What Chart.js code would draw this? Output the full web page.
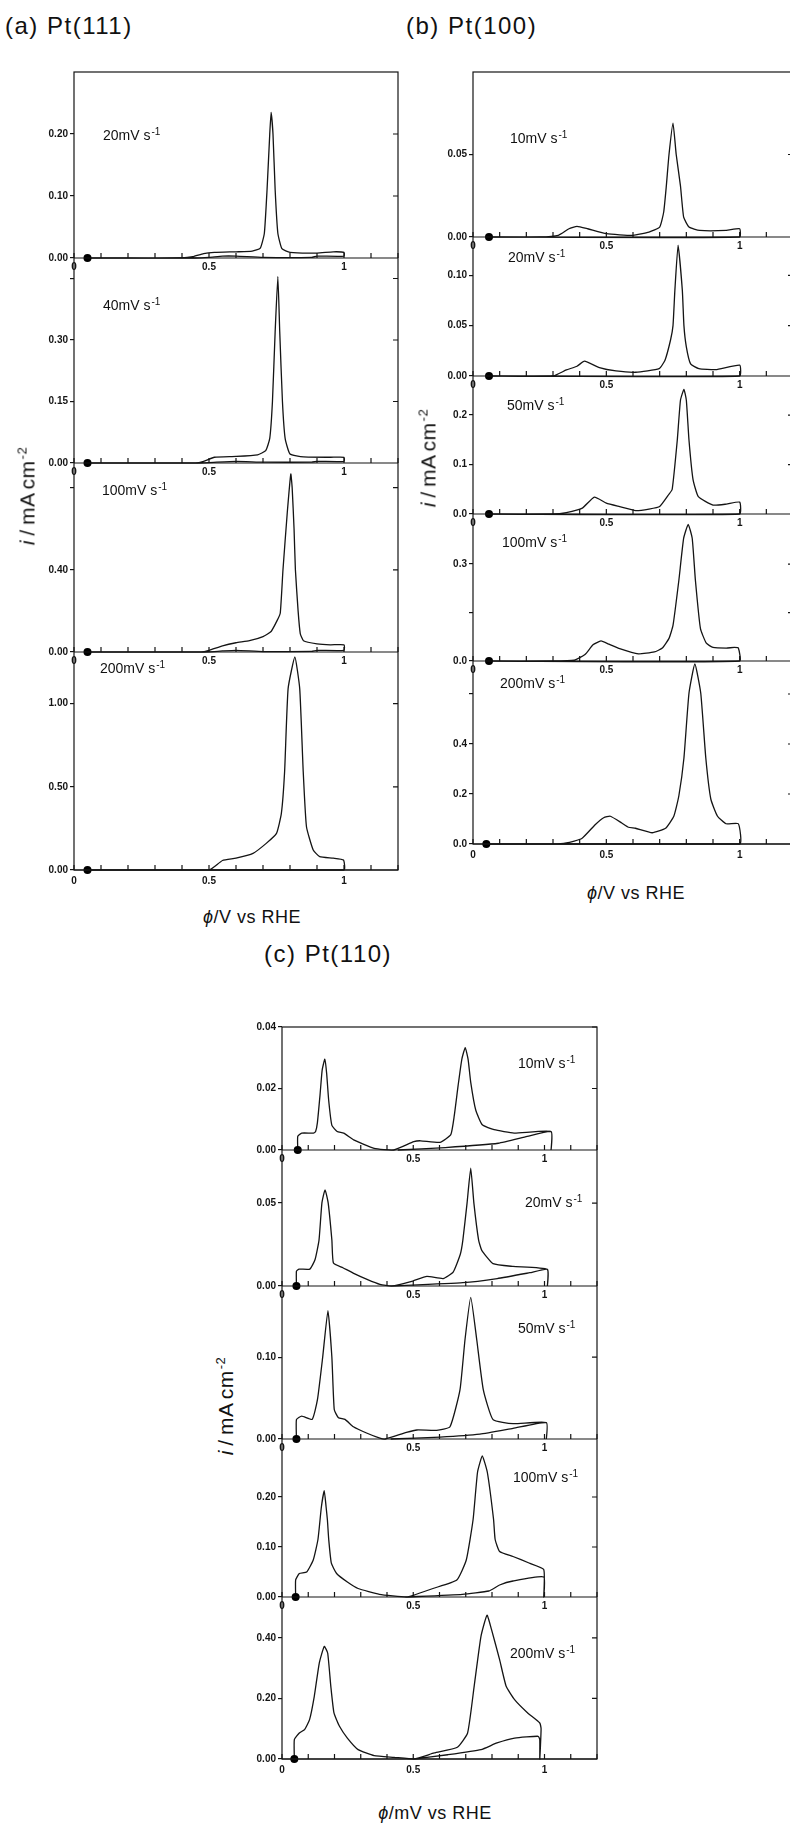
<!DOCTYPE html>
<html>
<head>
<meta charset="utf-8">
<script src="https://cdn.jsdelivr.net/npm/chart.js@4.4.0/dist/chart.umd.min.js"></script>
<style>
body{margin:0;width:790px;height:1826px;overflow:hidden;background:#fff;position:relative;font-family:"Liberation Sans",Arial,sans-serif;color:#111}
canvas{position:absolute}
.t{position:absolute;white-space:nowrap;line-height:1}
.panel{font-size:24px;letter-spacing:1.5px}
.rate{font-size:14px;transform:translateY(-50%)}
.sup{font-size:10px;position:relative;top:-5px;margin-left:1px}
.xt{font-size:18px;transform:translate(-50%,-50%);letter-spacing:0.5px}
.yt{font-size:21px;transform:translate(-50%,-50%) rotate(-90deg);word-spacing:-2px;letter-spacing:0.5px}
.yt .sup{font-size:13px;top:-8px}
</style>
</head>
<body>
<div id="wrap"></div>

<div class="t panel" style="left:5px;top:14px">(a) Pt(111)</div>
<div class="t panel" style="left:406px;top:14px">(b) Pt(100)</div>
<div class="t panel" style="left:264px;top:942px">(c) Pt(110)</div>

<div class="t rate" style="left:103px;top:135px">20mV s<span class="sup">-1</span></div>
<div class="t rate" style="left:103px;top:305px">40mV s<span class="sup">-1</span></div>
<div class="t rate" style="left:102px;top:490px">100mV s<span class="sup">-1</span></div>
<div class="t rate" style="left:100px;top:668px">200mV s<span class="sup">-1</span></div>

<div class="t rate" style="left:510px;top:138px">10mV s<span class="sup">-1</span></div>
<div class="t rate" style="left:508px;top:257px">20mV s<span class="sup">-1</span></div>
<div class="t rate" style="left:507px;top:405px">50mV s<span class="sup">-1</span></div>
<div class="t rate" style="left:502px;top:542px">100mV s<span class="sup">-1</span></div>
<div class="t rate" style="left:500px;top:683px">200mV s<span class="sup">-1</span></div>

<div class="t rate" style="left:518px;top:1063px">10mV s<span class="sup">-1</span></div>
<div class="t rate" style="left:525px;top:1202px">20mV s<span class="sup">-1</span></div>
<div class="t rate" style="left:518px;top:1328px">50mV s<span class="sup">-1</span></div>
<div class="t rate" style="left:513px;top:1477px">100mV s<span class="sup">-1</span></div>
<div class="t rate" style="left:510px;top:1653px">200mV s<span class="sup">-1</span></div>

<div class="t xt" style="left:252px;top:917px"><i>ϕ</i>/V vs RHE</div>
<div class="t xt" style="left:636px;top:893px"><i>ϕ</i>/V vs RHE</div>
<div class="t xt" style="left:435px;top:1813px"><i>ϕ</i>/mV vs RHE</div>

<div class="t yt" style="left:27px;top:496px"><i>i</i> / mA cm<span class="sup">-2</span></div>
<div class="t yt" style="left:428px;top:458px"><i>i</i> / mA cm<span class="sup">-2</span></div>
<div class="t yt" style="left:225px;top:1406px"><i>i</i> / mA cm<span class="sup">-2</span></div>

<script>
// potential axis (V vs RHE)
const xTickValues = [0, 0.1, 0.2, 0.3, 0.4, 0.5, 0.6, 0.7, 0.8, 0.9, 1.0, 1.1, 1.2]
const xTickLabels = ['0', '', '', '', '', '0.5', '', '', '', '', '1', '', '']

// (a) Pt(111): [potential, current]
const a20 = [[0.05,0],[0.2,0],[0.4,0],[0.44,0.002],[0.48,0.007],[0.52,0.009],[0.6,0.01],[0.66,0.011],[0.69,0.016],[0.705,0.04],[0.715,0.11],[0.725,0.2],[0.73,0.235],[0.737,0.2],[0.745,0.11],[0.755,0.04],[0.77,0.015],[0.8,0.009],[0.9,0.008],[0.96,0.01],[1.0,0.009],[1.0,0.003],[0.9,0.003],[0.88,0.001],[0.7,0.001],[0.6,0.003],[0.55,0.003],[0.5,0.001],[0.45,0],[0.05,0]]
const a40 = [[0.05,0],[0.3,0],[0.45,0],[0.48,0.004],[0.52,0.014],[0.6,0.016],[0.68,0.02],[0.71,0.03],[0.725,0.06],[0.735,0.15],[0.745,0.32],[0.755,0.455],[0.762,0.32],[0.772,0.15],[0.782,0.06],[0.8,0.022],[0.85,0.015],[0.95,0.014],[1.0,0.014],[1.0,0.004],[0.9,0.004],[0.88,0.002],[0.7,0.002],[0.6,0.004],[0.5,0.001],[0.45,0],[0.05,0]]
const a100 = [[0.05,0],[0.3,0],[0.47,0],[0.5,0.008],[0.55,0.03],[0.6,0.045],[0.65,0.055],[0.7,0.075],[0.73,0.1],[0.753,0.155],[0.764,0.19],[0.774,0.4],[0.79,0.68],[0.803,0.866],[0.808,0.8],[0.815,0.6],[0.82,0.4],[0.83,0.2],[0.838,0.09],[0.85,0.055],[0.9,0.04],[0.95,0.035],[1.0,0.035],[1.0,0.008],[0.9,0.008],[0.88,0.003],[0.7,0.002],[0.6,0.008],[0.55,0.005],[0.5,0.001],[0.45,0],[0.05,0]]
const a200 = [[0.05,0],[0.3,0],[0.5,0],[0.55,0.057],[0.6,0.071],[0.663,0.1],[0.712,0.16],[0.75,0.22],[0.768,0.34],[0.78,0.59],[0.793,1.09],[0.818,1.28],[0.836,1.09],[0.849,0.59],[0.861,0.26],[0.886,0.12],[0.91,0.08],[0.96,0.071],[0.998,0.06],[1.0,0],[0.05,0]]
const aMax = [0.30, 0.50, 0.92, 1.31]
const aTicks = [[0, 0.1, 0.2], [0, 0.15, 0.3, 0.45], [0, 0.4, 0.8], [0, 0.5, 1.0]]
const aTickLabels = [['0.00','0.10','0.20'], ['0.00','0.15','0.30',''], ['0.00','0.40',''], ['0.00','0.50','1.00']]

// (b) Pt(100)
const b10 = [[0.06,0],[0.25,0],[0.32,0.001],[0.36,0.005],[0.39,0.0065],[0.43,0.005],[0.5,0.002],[0.6,0.001],[0.66,0.003],[0.7,0.006],[0.715,0.015],[0.725,0.031],[0.735,0.05],[0.75,0.069],[0.762,0.05],[0.778,0.031],[0.79,0.012],[0.81,0.006],[0.85,0.004],[0.95,0.004],[1.0,0.005],[1.0,0],[0.06,0]]
const b20 = [[0.06,0],[0.3,0],[0.35,0.006],[0.39,0.0097],[0.418,0.0147],[0.474,0.0083],[0.536,0.005],[0.61,0.0037],[0.698,0.0073],[0.72,0.0157],[0.741,0.036],[0.75,0.05],[0.757,0.085],[0.769,0.13],[0.785,0.085],[0.791,0.05],[0.8,0.029],[0.816,0.012],[0.847,0.0073],[0.91,0.0063],[1.0,0.0107],[1.0,0],[0.06,0]]
const b50 = [[0.06,0],[0.3,0],[0.35,0.003],[0.41,0.012],[0.455,0.034],[0.5,0.022],[0.55,0.015],[0.61,0.007],[0.66,0.01],[0.7,0.015],[0.735,0.04],[0.747,0.05],[0.766,0.149],[0.778,0.23],[0.791,0.252],[0.8,0.23],[0.81,0.149],[0.825,0.07],[0.845,0.035],[0.9,0.018],[0.95,0.02],[1.0,0.024],[1.0,0],[0.06,0]]
const b100 = [[0.06,0],[0.3,0],[0.38,0.003],[0.42,0.02],[0.45,0.05],[0.48,0.062],[0.51,0.052],[0.55,0.038],[0.62,0.022],[0.68,0.028],[0.71,0.04],[0.735,0.07],[0.75,0.11],[0.772,0.25],[0.79,0.38],[0.807,0.423],[0.822,0.38],[0.834,0.25],[0.853,0.1],[0.875,0.055],[0.9,0.042],[0.95,0.04],[0.98,0.042],[0.995,0.04],[1.0,0],[0.06,0]]
const b200 = [[0.05,0],[0.3,0],[0.35,0.004],[0.408,0.022],[0.458,0.077],[0.49,0.105],[0.515,0.111],[0.558,0.084],[0.583,0.067],[0.609,0.063],[0.672,0.045],[0.722,0.063],[0.753,0.111],[0.772,0.193],[0.791,0.344],[0.81,0.604],[0.832,0.72],[0.854,0.604],[0.873,0.344],[0.892,0.179],[0.917,0.111],[0.949,0.081],[0.995,0.081],[1.0,0],[0.05,0]]
const bMax = [0.100, 0.138, 0.279, 0.455, 0.732]
const bTicks = [[0, 0.05], [0, 0.05, 0.10], [0, 0.1, 0.2], [0, 0.15, 0.3], [0, 0.2, 0.4, 0.6]]
const bTickLabels = [['0.00','0.05'], ['0.00','0.05','0.10'], ['0.0','0.1','0.2'], ['0.0','','0.3'], ['0.0','0.2','0.4','']]

// (c) Pt(110)
const c10 = [[0.06,0],[0.06,0.0044],[0.075,0.0055],[0.12,0.0055],[0.128,0.006],[0.135,0.009],[0.145,0.018],[0.153,0.026],[0.163,0.0295],[0.17,0.025],[0.178,0.016],[0.19,0.008],[0.21,0.006],[0.235,0.0055],[0.273,0.0033],[0.351,0.0005],[0.426,0],[0.502,0.0027],[0.528,0.003],[0.602,0.0025],[0.643,0.005],[0.656,0.011],[0.671,0.021],[0.685,0.0295],[0.698,0.0333],[0.709,0.0295],[0.719,0.022],[0.738,0.013],[0.763,0.0082],[0.808,0.0066],[0.884,0.0055],[1.025,0.006],[1.025,0],[1.025,0.006],[0.934,0.0044],[0.824,0.0022],[0.622,0.0008],[0.441,0]]
const c20 = [[0.055,0],[0.055,0.009],[0.065,0.0102],[0.106,0.0102],[0.126,0.016],[0.141,0.0277],[0.152,0.05],[0.164,0.058],[0.176,0.05],[0.19,0.0277],[0.196,0.0138],[0.232,0.011],[0.271,0.0078],[0.324,0.004],[0.373,0.001],[0.418,0],[0.498,0.003],[0.552,0.0058],[0.614,0.0045],[0.652,0.0084],[0.679,0.019],[0.689,0.0277],[0.705,0.05],[0.719,0.071],[0.731,0.05],[0.749,0.0277],[0.761,0.0215],[0.804,0.0135],[0.88,0.0118],[1.011,0.01],[1.011,0],[1.011,0.01],[0.944,0.008],[0.82,0.0045],[0.689,0.002],[0.418,0]]
const c50 = [[0.055,0],[0.055,0.0236],[0.075,0.028],[0.115,0.024],[0.135,0.048],[0.155,0.1],[0.175,0.157],[0.19,0.1],[0.199,0.036],[0.215,0.026],[0.24,0.024],[0.272,0.015],[0.322,0.0073],[0.373,0.001],[0.394,0],[0.474,0.008],[0.514,0.011],[0.589,0.0106],[0.64,0.015],[0.678,0.06],[0.697,0.121],[0.719,0.173],[0.742,0.121],[0.767,0.06],[0.804,0.0236],[0.88,0.0187],[1.007,0.02],[1.007,0],[1.007,0.02],[0.88,0.013],[0.754,0.006],[0.602,0.0024],[0.414,0]]
const c100 = [[0.052,0],[0.052,0.034],[0.066,0.047],[0.094,0.05],[0.119,0.074],[0.137,0.115],[0.15,0.18],[0.161,0.2126],[0.168,0.18],[0.173,0.154],[0.178,0.115],[0.188,0.0676],[0.208,0.047],[0.249,0.03],[0.29,0.017],[0.371,0.0054],[0.473,0],[0.5,0.0034],[0.575,0.017],[0.666,0.034],[0.702,0.074],[0.728,0.155],[0.745,0.25],[0.763,0.282],[0.782,0.25],[0.806,0.155],[0.812,0.115],[0.829,0.091],[0.88,0.081],[0.941,0.068],[0.997,0.055],[0.997,0],[0.997,0.04],[0.88,0.032],[0.829,0.024],[0.788,0.012],[0.687,0.0054],[0.473,0]]
const c200 = [[0.047,0],[0.047,0.064],[0.066,0.086],[0.086,0.097],[0.105,0.13],[0.123,0.207],[0.142,0.317],[0.161,0.372],[0.174,0.35],[0.186,0.24],[0.198,0.152],[0.219,0.108],[0.249,0.069],[0.29,0.031],[0.351,0.011],[0.427,0.0055],[0.503,0],[0.58,0.02],[0.668,0.039],[0.707,0.086],[0.732,0.24],[0.758,0.405],[0.781,0.475],[0.798,0.428],[0.829,0.328],[0.854,0.24],[0.886,0.196],[0.936,0.152],[0.982,0.119],[0.987,0.1],[0.982,0],[0.982,0.064],[0.976,0.075],[0.886,0.069],[0.819,0.053],[0.758,0.031],[0.631,0.014],[0.503,0]]
const cMax = [0.040, 0.082, 0.187, 0.316, 0.535]
const cTicks = [[0, 0.02, 0.04], [0, 0.05], [0, 0.10], [0, 0.1, 0.2], [0, 0.2, 0.4]]
const cTickLabels = [['0.00','0.02','0.04'], ['0.00','0.05'], ['0.00','0.10'], ['0.00','0.10','0.20'], ['0.00','0.20','0.40']]

const INK = '#141414'
const YW = 44, PT = 12, PR = 8, XH = 24
const tickFont = {family: 'Liberation Sans', size: 10, weight: 'bold'}

// frame, zero lines, inner ticks and inner potential labels
const frame = {
  id: 'frame',
  afterDraw(chart) {
    const {ctx, chartArea: a, scales} = chart
    const x = scales.x
    ctx.save()
    ctx.strokeStyle = INK
    ctx.fillStyle = INK
    ctx.lineWidth = 1.2
    ctx.strokeRect(a.left, a.top, a.right - a.left, a.bottom - a.top)
    ctx.font = 'bold 10px "Liberation Sans"'
    ctx.textAlign = 'center'
    ctx.textBaseline = 'top'
    for (const s of Object.values(scales)) {
      if (s.axis !== 'y') continue
      const y0 = s.getPixelForValue(0)
      ctx.beginPath()
      ctx.moveTo(a.left, y0)
      ctx.lineTo(a.right, y0)
      xTickValues.forEach((v, i) => {
        const px = x.getPixelForValue(v)
        ctx.moveTo(px, y0)
        ctx.lineTo(px, y0 - 5)
        if (y0 < a.bottom - 2 && xTickLabels[i]) ctx.fillText(xTickLabels[i], px, y0 + 4)
      })
      s.ticks.forEach(t => {
        const py = s.getPixelForValue(t.value)
        ctx.moveTo(a.right, py)
        ctx.lineTo(a.right - 5, py)
      })
      ctx.stroke()
    }
    ctx.restore()
  }
}

function yAxes(max, ticks, labels, weights) {
  const out = {}
  max.forEach((m, i) => {
    out['y' + i] = {
      type: 'linear',
      position: 'left',
      stack: 'cv',
      stackWeight: weights[i],
      weight: max.length - i,
      min: 0,
      max: m,
      afterBuildTicks: s => { s.ticks = ticks[i].map(v => ({value: v})) },
      afterFit: s => { s.width = YW },
      ticks: {callback: (v, k) => labels[i][k], font: tickFont, color: INK, padding: 2, autoSkip: false},
      grid: {drawOnChartArea: false, tickLength: 4, color: INK, lineWidth: 1.2},
      border: {display: false}
    }
  })
  return out
}

function makePanel(box, series, max, ticks, labels, weights) {
  const canvas = document.createElement('canvas')
  const w = YW + (box.right - box.left) + PR
  const h = PT + (box.bottom - box.top) + XH
  canvas.width = w
  canvas.height = h
  canvas.style.left = (box.left - YW) + 'px'
  canvas.style.top = (box.top - PT) + 'px'
  document.getElementById('wrap').append(canvas)

  const scales = yAxes(max, ticks, labels, weights)
  scales.x = {
    type: 'linear',
    min: 0,
    max: 1.2,
    afterBuildTicks: s => { s.ticks = xTickValues.map(v => ({value: v})) },
    afterFit: s => { s.height = XH },
    ticks: {callback: (v, k) => xTickLabels[k], font: tickFont, color: INK, padding: 5, autoSkip: false, maxRotation: 0},
    grid: {drawOnChartArea: false, drawTicks: false},
    border: {display: false}
  }

  new Chart(canvas, {
    type: 'scatter',
    data: {
      datasets: series.map((d, i) => ({
        data: d,
        yAxisID: 'y' + i,
        showLine: true,
        borderColor: INK,
        borderWidth: 1.3,
        tension: 0.15,
        pointRadius: c => c.dataIndex === 0 ? 4 : 0,
        pointBackgroundColor: '#000',
        pointBorderWidth: 0,
        clip: false
      }))
    },
    options: {
      responsive: false,
      animation: false,
      layout: {padding: {top: PT, right: PR, left: 0, bottom: 0}},
      plugins: {legend: {display: false}, tooltip: {enabled: false}},
      scales: scales
    },
    plugins: [frame]
  })
}

makePanel({left: 74, top: 72, right: 398, bottom: 870}, [a20, a40, a100, a200], aMax, aTicks, aTickLabels, [186, 205, 189, 218])
makePanel({left: 473, top: 72, right: 793, bottom: 844}, [b10, b20, b50, b100, b200], bMax, bTicks, bTickLabels, [165, 139, 138, 147, 183])
makePanel({left: 282, top: 1027, right: 597, bottom: 1759}, [c10, c20, c50, c100, c200], cMax, cTicks, cTickLabels, [123, 136, 153, 158, 162])
</script>
</body>
</html>
